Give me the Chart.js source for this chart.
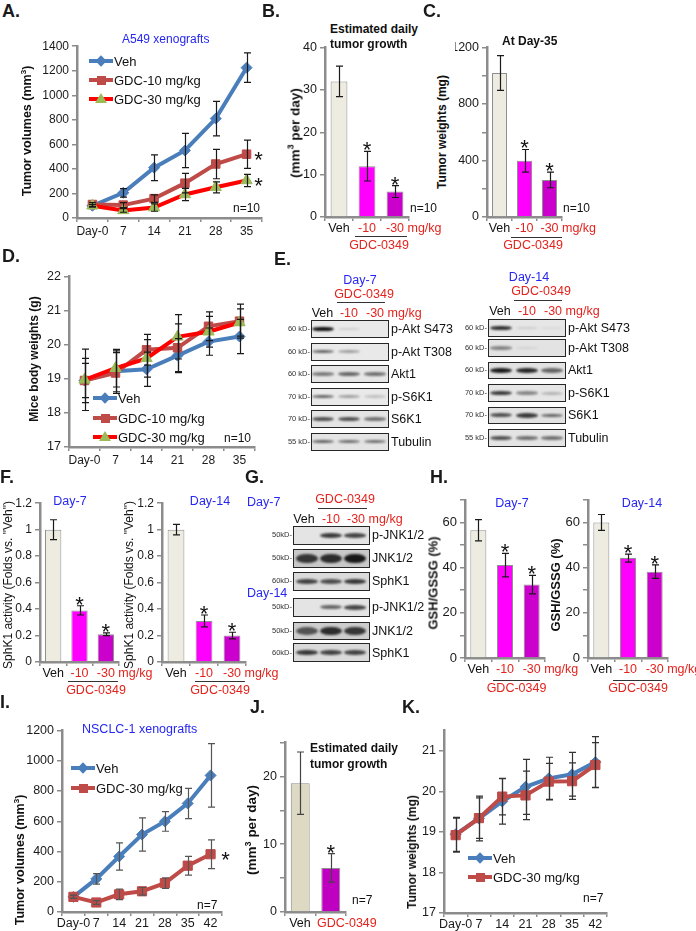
<!DOCTYPE html>
<html>
<head>
<meta charset="utf-8">
<script src="https://cdn.jsdelivr.net/npm/chart.js@4.4.1/dist/chart.umd.min.js"></script>
<style>
body { margin: 0; background: #fff; }
#page { position: relative; width: 696px; height: 931px; overflow: hidden; font-family: "Liberation Sans", Arial, sans-serif; color: #111; }
#page div { position: absolute; white-space: nowrap; }
#page canvas { position: absolute; }
</style>
</head>
<body>
<div id="page"></div>
<script>
// A - A549 tumor volumes
var daysA = ['Day-0', '7', '14', '21', '28', '35'];
var vehA = [100, 205, 410, 550, 810, 1225];
var vehAErr = [10, 35, 105, 140, 140, 120];
var gdc10A = [110, 105, 158, 284, 440, 520];
var gdc10AErr = [15, 20, 30, 80, 120, 115];
var gdc30A = [100, 62, 85, 192, 250, 306];
var gdc30AErr = [10, 15, 30, 50, 45, 50];

// B, C - bars (Veh, -10, -30 mg/kg)
var doses = ['Veh', '-10', '-30'];
var growthB = [32, 12, 6];
var growthBErr = [3.6, 3.5, 1.4];
var weightC = [1020, 398, 262];
var weightCErr = [123, 80, 55];

// D - body weights
var vehD = [18.95, 19.22, 19.28, 19.68, 20.09, 20.24];
var vehDErr = [0.65, 0.6, 0.5, 0.5, 0.4, 0.5];
var gdc10D = [18.95, 19.17, 19.85, 19.91, 20.54, 20.69];
var gdc10DErr = [0.5, 0.6, 0.45, 0.7, 0.42, 0.5];
var gdc30D = [18.97, 19.31, 19.6, 20.23, 20.38, 20.65];
var gdc30DErr = [0.9, 0.55, 0.55, 0.65, 0.45, 0.4];

// E, G - blot band strength per lane (Veh, -10, -30)
var proteinsE = ['p-Akt S473', 'p-Akt T308', 'Akt1', 'p-S6K1', 'S6K1', 'Tubulin'];
var kdE = ['60 kD-', '60 kD-', '60 kD-', '70 kD-', '70 kD-', '55 kD-'];
var bandsE7 = [[1.0, 0.12, 0], [0.6, 0.35, 0], [0.5, 0.6, 0.55], [0.6, 0.35, 0.2], [0.7, 0.7, 0.55], [0.6, 0.55, 0.55]];
var bandsE14 = [[0.85, 0.12, 0.06], [0.45, 0.08, 0], [0.95, 0.9, 0.6], [0.8, 0.45, 0.25], [0.7, 0.8, 0.6], [0.7, 0.55, 0.55]];
var proteinsG = ['p-JNK1/2', 'JNK1/2', 'SphK1'];
var kdG = ['50kD-', '50kD-', '60kD-'];
var bandsG7 = [[0, 0.8, 0.75], [0.8, 0.85, 0.95], [0.75, 0.7, 0.8]];
var bandsG14 = [[0, 0.6, 0.75], [0.65, 0.85, 0.8], [0.8, 0.75, 0.75]];

// F - SphK1 activity
var sphk7 = [1.0, 0.39, 0.21];
var sphk7Err = [0.075, 0.035, 0.01];
var sphk14 = [1.0, 0.31, 0.2];
var sphk14Err = [0.04, 0.045, 0.025];

// H - GSH/GSSG
var gsh7 = [56.5, 41.1, 32.5];
var gsh7Err = [4.7, 5.2, 4.1];
var gsh14 = [60, 44.2, 38.2];
var gsh14Err = [3.5, 1.8, 3.0];

// I - NSCLC-1 volumes
var daysI = ['Day-0', '7', '14', '21', '28', '35', '42'];
var vehI = [100, 219, 367, 512, 599, 718, 903];
var vehIErr = [10, 35, 90, 110, 65, 100, 210];
var gdcI = [100, 63, 117, 137, 191, 306, 382];
var gdcIErr = [10, 12, 35, 25, 35, 62, 95];

// J - daily growth
var groupsJ = ['Veh', 'GDC-0349'];
var growthJ = [19, 6.5];
var growthJErr = [4.6, 2.1];

// K - weights
var vehK = [18.94, 19.33, 19.75, 20.11, 20.32, 20.42, 20.72];
var vehKErr = [0.42, 0.55, 0.56, 0.68, 0.52, 0.54, 0.63];
var gdcK = [18.92, 19.34, 19.87, 19.9, 20.24, 20.25, 20.65];
var gdcKErr = [0.42, 0.5, 0.45, 0.6, 0.45, 0.45, 0.55];

var FONT = '"Liberation Sans", Arial, sans-serif';
Chart.defaults.font.family = FONT;
var AXIS = '#8c8c8c', RED = '#e3231d', TBLUE = '#2626f2';
var BLUE = '#4a7ebb', BROWN = '#be4b48', BRIGHT = '#ff0000', GREEN = '#9bbb59';
var BEIGE = '#eeece1', MAG = '#ff00ff', PURP = '#cc00cc', TAN = '#ddd9c3', PURP2 = '#c000c0';
var page = document.getElementById('page');

function t(s, x, y, o) {
    o = o || {};
    var d = document.createElement('div');
    d.innerHTML = s;
    d.style.left = x + 'px';
    d.style.top = y + 'px';
    d.style.fontSize = (o.size || 12) + 'px';
    d.style.lineHeight = '1';
    if (o.bold) d.style.fontWeight = 'bold';
    d.style.color = o.color || '#111';
    var tx = o.align == 'c' ? '-50%' : (o.align == 'r' ? '-100%' : '0');
    d.style.transform = o.rot ? 'translate(-50%,-50%) rotate(-90deg)' : 'translate(' + tx + ',-50%)';
    page.appendChild(d);
    return d;
}
function rect(x, y, w, h, css) {
    var d = document.createElement('div');
    d.style.cssText = 'left:' + x + 'px;top:' + y + 'px;width:' + w + 'px;height:' + h + 'px;' + (css || '');
    page.appendChild(d);
    return d;
}
function hline(x1, x2, y) {
    rect(x1, y, x2 - x1, 1, 'background:#333;');
}
function letter(s, x, y) {
    t(s, x, y, { size: 18, bold: true, color: '#1a1a1a' });
}

// error bars drawn from each dataset's err array
var errbars = {
    id: 'errbars',
    afterDatasetsDraw: function (chart) {
        var c = chart.ctx, ys = chart.scales.y;
        chart.data.datasets.forEach(function (ds, i) {
            if (!ds.err) return;
            var pts = chart.getDatasetMeta(i).data;
            c.save();
            c.strokeStyle = ds.errColor || '#1a1a1a';
            c.lineWidth = 1.2;
            pts.forEach(function (p, j) {
                var x = Math.round(p.x) + 0.5;
                var hi = ys.getPixelForValue(ds.data[j] + ds.err[j]);
                var lo = ys.getPixelForValue(ds.data[j] - ds.err[j]);
                c.beginPath();
                c.moveTo(x, hi); c.lineTo(x, lo);
                c.moveTo(x - 3.5, hi); c.lineTo(x + 3.5, hi);
                c.moveTo(x - 3.5, lo); c.lineTo(x + 3.5, lo);
                c.stroke();
            });
            c.restore();
        });
    }
};
// significance stars
var stars = {
    id: 'stars',
    afterDatasetsDraw: function (chart) {
        var c = chart.ctx, ys = chart.scales.y;
        chart.data.datasets.forEach(function (ds, i) {
            if (!ds.stars) return;
            var pts = chart.getDatasetMeta(i).data;
            c.save();
            c.fillStyle = '#111';
            c.font = '22px ' + FONT;
            c.textAlign = 'center';
            c.textBaseline = 'alphabetic';
            ds.stars.forEach(function (j) {
                if (ds.starDx) {
                    c.fillText('*', pts[j].x + ds.starDx, ys.getPixelForValue(ds.data[j]) + 12.5);
                } else {
                    c.fillText('*', pts[j].x, ys.getPixelForValue(ds.data[j] + ds.err[j]) + 6);
                }
            });
            c.restore();
        });
    }
};
Chart.register(errbars, stars);

function yLin(min, max, step, size, every) {
    return {
        type: 'linear', min: min, max: max,
        border: { display: true, color: AXIS, width: 2.5 },
        grid: { drawOnChartArea: false, drawTicks: true, tickLength: 5, color: AXIS, lineWidth: 1.5 },
        ticks: {
            stepSize: step, color: '#1a1a1a', font: { size: size }, padding: 3,
            callback: function (v) {
                var r = Math.round(v * 1000) / 1000;
                if (every && Math.abs(r / every - Math.round(r / every)) > 1e-6) return '';
                return r;
            }
        }
    };
}
function xCat(size, colors, pad) {
    return {
        type: 'category', offset: true,
        border: { display: true, color: AXIS, width: 2.5 },
        grid: { offset: true, drawOnChartArea: false, drawTicks: true, tickLength: 4, color: AXIS, lineWidth: 1.5 },
        ticks: {
            autoSkip: false, maxRotation: 0, padding: pad || 0, font: { size: size },
            color: function (c) { return colors ? colors[c.index] : '#1a1a1a'; }
        }
    };
}
function lineDs(lbl, vals, errs, col, shape, r, ord, fill) {
    return {
        label: lbl, data: vals, err: errs, borderColor: col, backgroundColor: fill || col,
        pointBorderColor: fill || col, pointBackgroundColor: fill || col,
        borderWidth: 4, pointStyle: shape, pointRadius: r, pointBorderWidth: 1, tension: 0, order: ord
    };
}
function barDs(vals, errs, cols, pct) {
    return {
        data: vals, err: errs, backgroundColor: cols, borderColor: '#8f8f8f', borderWidth: 1,
        categoryPercentage: 1, barPercentage: pct || 0.6
    };
}
function mkChart(cfg, box) {
    var cv = document.createElement('canvas');
    var w = Math.round(box.r - box.l + box.yw + box.pr), h = Math.round(box.b - box.t + box.pt + box.xh);
    cv.width = w; cv.height = h;
    cv.style.left = (box.l - box.yw) + 'px';
    cv.style.top = (box.t - box.pt) + 'px';
    cv.style.width = w + 'px';
    cv.style.height = h + 'px';
    page.appendChild(cv);
    var o = cfg.options;
    o.responsive = false;
    o.animation = false;
    o.devicePixelRatio = 1;
    o.layout = { padding: { top: box.pt, right: box.pr, left: 0, bottom: 0 } };
    o.plugins = o.plugins || {};
    o.plugins.legend = { display: false };
    o.plugins.tooltip = { enabled: false };
    o.scales.x.afterFit = function (s) { s.height = box.xh; };
    o.scales.y.afterFit = function (s) { s.width = box.yw; };
    var ch = new Chart(cv, cfg);
    ch.$box = box;
    return ch;
}
// "mg/kg" after the last dose tick, GDC-0349 bracket below
function doseFoot(ch, size, lineY, lineX1, lineX2, gdcX, gdcY) {
    var b = ch.$box;
    var cx = ch.scales.x.getPixelForValue(2) + b.l - b.yw;
    var m = document.createElement('canvas').getContext('2d');
    m.font = size + 'px ' + FONT;
    var w = m.measureText(ch.data.labels[2]).width;
    var cy = b.b + 4 + 0.55 * size;
    t('mg/kg', cx + w / 2 + m.measureText(' ').width, cy, { size: size, color: RED });
    hline(lineX1, lineX2, lineY);
    t('GDC-0349', gdcX, gdcY, { size: size, color: RED, align: 'c' });
}
function legend(x1, rows) {
    rows.forEach(function (r) {
        rect(x1, r.cy - 2, 24, 4, 'background:' + r.color + ';');
        var mx = x1 + 12;
        if (r.shape == 'diamond') rect(mx - 4, r.cy - 4, 8, 8, 'background:' + r.fill + ';transform:rotate(45deg);');
        if (r.shape == 'square') rect(mx - 4.5, r.cy - 4.5, 9, 9, 'background:' + r.fill + ';');
        if (r.shape == 'triangle') rect(mx - 6, r.cy - 6, 0, 0, 'border-left:6px solid transparent;border-right:6px solid transparent;border-bottom:10px solid ' + r.fill + ';');
        t(r.label, x1 + 25, r.cy, { size: 13 });
    });
}
function blots(x1, x2, tops, h, lanes, vals, names, kds, bgs, bandH) {
    tops.forEach(function (top, i) {
        rect(x1, top, x2 - x1, h, 'background:' + bgs[i] + ';border:1px solid #262626;box-sizing:border-box;');
        vals[i].forEach(function (a, j) {
            if (a <= 0) return;
            var bh = bandH[i] * (0.6 + 0.6 * a);
            rect(lanes[j] - 11, top + h / 2 - bh / 2, 22, bh,
                'background:rgba(15,15,15,' + a + ');border-radius:50%;filter:blur(1.2px);');
        });
        t(names[i], x2 + 2, top + h / 2, { size: 12.5 });
        t(kds[i], x1 - 1, top + h / 2, { size: 7.5, align: 'r', color: '#333' });
    });
}

// ---------- A ----------
var dsA = [
    lineDs('Veh', vehA, vehAErr, BLUE, 'rectRot', 5.5, 3),
    lineDs('GDC-10 mg/kg', gdc10A, gdc10AErr, BROWN, 'rect', 6, 2),
    lineDs('GDC-30 mg/kg', gdc30A, gdc30AErr, BRIGHT, 'triangle', 6.5, 1, GREEN)
];
dsA[1].stars = [5]; dsA[1].starDx = 12;
dsA[2].stars = [5]; dsA[2].starDx = 12;
mkChart({ type: 'line', data: { labels: daysA, datasets: dsA },
    options: { scales: { x: xCat(12, null, 2), y: yLin(0, 1400, 200, 12) } } },
    { l: 77, t: 44, r: 262, b: 218, yw: 45, xh: 24, pt: 8, pr: 16 });
letter('A.', 2, 11);
t('A549 xenografts', 122, 39, { size: 12, color: TBLUE });
t('Tumor volumes (mm<sup style="font-size:8px">3</sup>)', 27, 131, { size: 12.5, bold: true, rot: true });
t('n=10', 233, 208, { size: 12 });
legend(89, [
    { cy: 61, label: 'Veh', color: BLUE, fill: BLUE, shape: 'diamond' },
    { cy: 80, label: 'GDC-10 mg/kg', color: BROWN, fill: BROWN, shape: 'square' },
    { cy: 99, label: 'GDC-30 mg/kg', color: BRIGHT, fill: GREEN, shape: 'triangle' }
]);

// ---------- B ----------
var dsB = barDs(growthB, growthBErr, [BEIGE, MAG, PURP], 0.6);
dsB.stars = [1, 2];
var chB = mkChart({ type: 'bar', data: { labels: doses, datasets: [dsB] },
    options: { scales: { x: xCat(12.5, ['#111', RED, RED]), y: yLin(0, 40, 10, 12.5) } } },
    { l: 325, t: 43, r: 409, b: 217, yw: 30, xh: 22, pt: 6, pr: 4 });
letter('B.', 262, 11);
t('Estimated daily', 330, 29, { size: 12, bold: true });
t('tumor growth', 330, 43.5, { size: 12, bold: true });
t('(mm<sup style="font-size:9px">3</sup> per day)', 294, 133, { size: 13.5, bold: true, rot: true });
t('n=10', 410, 208, { size: 12 });
doseFoot(chB, 12.5, 236, 355, 407, 379, 245);

// ---------- C ----------
var dsC = barDs(weightC, weightCErr, [BEIGE, MAG, PURP], 0.6);
dsC.stars = [1, 2];
var chC = mkChart({ type: 'bar', data: { labels: doses, datasets: [dsC] },
    options: { scales: { x: xCat(12.5, ['#111', RED, RED]), y: yLin(0, 1200, 200, 12.5, 400) } } },
    { l: 487, t: 43, r: 562, b: 217, yw: 32, xh: 22, pt: 6, pr: 4 });
letter('C.', 423, 11);
t('At Day-35', 502, 41, { size: 12, bold: true });
t('Tumor weights (mg)', 442, 132, { size: 12, bold: true, rot: true });
t('n=10', 563, 208, { size: 12 });
doseFoot(chC, 12.5, 237, 511, 562, 533, 245);

// ---------- D ----------
var dsD = [
    lineDs('Veh', vehD, vehDErr, BLUE, 'rectRot', 5.5, 3),
    lineDs('GDC-10 mg/kg', gdc10D, gdc10DErr, BROWN, 'rect', 6, 2),
    lineDs('GDC-30 mg/kg', gdc30D, gdc30DErr, BRIGHT, 'triangle', 6.5, 1, GREEN)
];
mkChart({ type: 'line', data: { labels: daysA, datasets: dsD },
    options: { scales: { x: xCat(12, null, 2), y: yLin(17, 22, 1, 12.5) } } },
    { l: 69, t: 274, r: 255, b: 446.7, yw: 40, xh: 24, pt: 8, pr: 8 });
letter('D.', 2, 256);
t('Mice body weights (g)', 34, 359, { size: 12, bold: true, rot: true });
t('n=10', 224, 438, { size: 12 });
legend(93, [
    { cy: 398, label: 'Veh', color: BLUE, fill: BLUE, shape: 'diamond' },
    { cy: 418, label: 'GDC-10 mg/kg', color: BROWN, fill: BROWN, shape: 'square' },
    { cy: 437, label: 'GDC-30 mg/kg', color: BRIGHT, fill: GREEN, shape: 'triangle' }
]);

// ---------- E ----------
letter('E.', 274, 259);
t('Day-7', 360, 280, { size: 12.5, color: TBLUE, align: 'c' });
t('GDC-0349', 364, 294, { size: 12.5, color: RED, align: 'c' });
hline(337, 385, 302);
t('Veh', 322.5, 313, { size: 12.5, align: 'c' });
t('-10', 349, 313, { size: 12.5, color: RED, align: 'c' });
t('-30 mg/kg', 366, 313, { size: 12.5, color: RED });
blots(311, 389, [320, 342.5, 365, 387.5, 410, 432.5], 18, [323, 349, 375], bandsE7, proteinsE, kdE,
    ['#e9e9e9', '#e9e9e9', '#e6e6e6', '#e9e9e9', '#e4e4e4', '#e4e4e4'], [4, 4, 4, 4, 4, 4]);
t('Day-14', 529, 277, { size: 12.5, color: TBLUE, align: 'c' });
t('GDC-0349', 541, 291, { size: 12.5, color: RED, align: 'c' });
hline(514, 562, 300);
t('Veh', 500, 311, { size: 12.5, align: 'c' });
t('-10', 527, 311, { size: 12.5, color: RED, align: 'c' });
t('-30 mg/kg', 544, 311, { size: 12.5, color: RED });
blots(488, 566, [319.3, 339.3, 361.7, 384.3, 406.7, 429], 17.5, [501, 527, 552], bandsE14, proteinsE, kdE,
    ['#e6e6e6', '#e3e3e3', '#e2e2e2', '#e6e6e6', '#e2e2e2', '#e4e4e4'], [4, 4, 4.5, 4, 4, 4]);

// ---------- F ----------
var dsF7 = barDs(sphk7, sphk7Err, [BEIGE, MAG, PURP], 0.62);
dsF7.stars = [1, 2];
var chF7 = mkChart({ type: 'bar', data: { labels: doses, datasets: [dsF7] },
    options: { scales: { x: xCat(12.5, ['#111', RED, RED]), y: yLin(0, 1.2, 0.2, 12) } } },
    { l: 40, t: 499, r: 119, b: 661.7, yw: 28, xh: 22, pt: 6, pr: 4 });
var dsF14 = barDs(sphk14, sphk14Err, [BEIGE, MAG, PURP], 0.6);
dsF14.stars = [1, 2];
var chF14 = mkChart({ type: 'bar', data: { labels: doses, datasets: [dsF14] },
    options: { scales: { x: xCat(12.5, ['#111', RED, RED]), y: yLin(0, 1.2, 0.2, 12) } } },
    { l: 162, t: 499, r: 246, b: 661.7, yw: 28, xh: 22, pt: 6, pr: 4 });
letter('F.', 0, 477);
t('Day-7', 70, 501, { size: 12.5, color: TBLUE, align: 'c' });
t('Day-14', 210, 501, { size: 12.5, color: TBLUE, align: 'c' });
t('SphK1 activity (Folds vs. "Veh")', 8, 585, { size: 12, rot: true });
t('SphK1 activity (Folds vs. "Veh")', 129, 585, { size: 12, rot: true });
doseFoot(chF7, 12.5, 681, 68, 118, 96, 690);
doseFoot(chF14, 12.5, 681, 195, 245, 220, 690);

// ---------- G ----------
letter('G.', 245, 477);
t('Day-7', 247, 502, { size: 12.5, color: TBLUE });
t('GDC-0349', 345, 499, { size: 12.5, color: RED, align: 'c' });
hline(318, 367, 508);
t('Veh', 304, 519, { size: 12.5, align: 'c' });
t('-10', 331, 519, { size: 12.5, color: RED, align: 'c' });
t('-30 mg/kg', 347, 519, { size: 12.5, color: RED });
blots(293, 370, [526, 549, 572], 18.5, [307, 331, 355], bandsG7, proteinsG, kdG,
    ['#e4e4e4', '#c9c9c9', '#dadada'], [4.5, 8, 5]);
t('Day-14', 247, 593, { size: 12.5, color: TBLUE });
blots(293, 370, [598, 621.7, 643.3], 18.5, [307, 331, 355], bandsG14, proteinsG, kdG,
    ['#e4e4e4', '#cdcdcd', '#dadada'], [4.5, 8, 5]);

// ---------- H ----------
var dsH7 = barDs(gsh7, gsh7Err, [BEIGE, MAG, PURP], 0.6);
dsH7.stars = [1, 2];
var chH7 = mkChart({ type: 'bar', data: { labels: doses, datasets: [dsH7] },
    options: { scales: { x: xCat(12.5, ['#111', RED, RED]), y: yLin(0, 70, 10, 13, 20) } } },
    { l: 465, t: 495, r: 545, b: 658.3, yw: 26, xh: 22, pt: 6, pr: 4 });
var dsH14 = barDs(gsh14, gsh14Err, [BEIGE, MAG, PURP], 0.6);
dsH14.stars = [1, 2];
var chH14 = mkChart({ type: 'bar', data: { labels: doses, datasets: [dsH14] },
    options: { scales: { x: xCat(12.5, ['#111', RED, RED]), y: yLin(0, 70, 10, 13, 20) } } },
    { l: 588, t: 495, r: 668, b: 658.3, yw: 26, xh: 22, pt: 6, pr: 4 });
letter('H.', 430, 477);
t('Day-7', 512, 503, { size: 12.5, color: TBLUE, align: 'c' });
t('Day-14', 642, 503, { size: 12.5, color: TBLUE, align: 'c' });
t('GSH/GSSG (%)', 433, 583, { size: 13, bold: true, rot: true });
t('GSH/GSSG (%)', 555, 585, { size: 13, bold: true, rot: true });
doseFoot(chH7, 12.5, 680, 493, 540, 516.5, 688);
doseFoot(chH14, 12.5, 680, 613, 662, 638, 688);

// ---------- I ----------
var dsI = [
    lineDs('Veh', vehI, vehIErr, BLUE, 'rectRot', 5.5, 2),
    lineDs('GDC-30 mg/kg', gdcI, gdcIErr, BROWN, 'rect', 6.5, 1)
];
dsI[0].errColor = '#555'; dsI[1].errColor = '#555';
dsI[1].stars = [6]; dsI[1].starDx = 15;
mkChart({ type: 'line', data: { labels: daysI, datasets: dsI },
    options: { scales: { x: xCat(12.5), y: yLin(0, 1200, 200, 12.5) } } },
    { l: 62, t: 727.7, r: 222, b: 912, yw: 36, xh: 22, pt: 8, pr: 14 });
letter('I.', 0, 702);
t('NSCLC-1 xenografts', 82, 729, { size: 12.5, color: TBLUE });
t('Tumor volumes (mm<sup style="font-size:8px">3</sup>)', 20, 860, { size: 12.5, bold: true, rot: true });
t('n=7', 197, 905, { size: 12 });
legend(71, [
    { cy: 768, label: 'Veh', color: BLUE, fill: BLUE, shape: 'diamond' },
    { cy: 788, label: 'GDC-30 mg/kg', color: BROWN, fill: BROWN, shape: 'square' }
]);

// ---------- J ----------
var dsJ = barDs(growthJ, growthJErr, [TAN, PURP2], 0.62);
dsJ.stars = [1];
dsJ.errColor = '#444';
var xJ = xCat(12.5);
xJ.ticks.callback = function () { return ''; };
mkChart({ type: 'bar', data: { labels: groupsJ, datasets: [dsJ] },
    options: { scales: { x: xJ, y: yLin(0, 25, 5, 12.5, 10) } } },
    { l: 285, t: 738, r: 346.4, b: 911.7, yw: 28, xh: 22, pt: 6, pr: 4 });
letter('J.', 250, 707);
t('Estimated daily', 310, 748, { size: 12, bold: true });
t('tumor growth', 310, 764, { size: 12, bold: true });
t('(mm<sup style="font-size:9px">3</sup> per day)', 251, 830, { size: 13.5, bold: true, rot: true });
t('Veh', 300, 923, { size: 12.5, align: 'c' });
t('GDC-0349', 317, 923, { size: 12.5, color: RED });
t('n=7', 352, 900, { size: 12 });

// ---------- K ----------
var dsK = [
    lineDs('Veh', vehK, vehKErr, BLUE, 'rectRot', 5.5, 2),
    lineDs('GDC-30 mg/kg', gdcK, gdcKErr, BROWN, 'rect', 6.5, 1)
];
dsK[0].errColor = '#333'; dsK[1].errColor = '#333';
var yK = yLin(17, 21.5, 1, 12.5);
yK.afterBuildTicks = function (s) { s.ticks = s.ticks.filter(function (k) { return Number.isInteger(k.value); }); };
mkChart({ type: 'line', data: { labels: daysI, datasets: dsK },
    options: { scales: { x: xCat(12.5), y: yK } } },
    { l: 444, t: 727.8, r: 607, b: 912.3, yw: 30, xh: 22, pt: 8, pr: 8 });
letter('K.', 402, 707);
t('Tumor weights (mg)', 412, 852, { size: 12, bold: true, rot: true });
t('n=7', 583, 898, { size: 12 });
legend(468, [
    { cy: 858, label: 'Veh', color: BLUE, fill: BLUE, shape: 'diamond' },
    { cy: 877, label: 'GDC-30 mg/kg', color: BROWN, fill: BROWN, shape: 'square' }
]);
</script>
</body>
</html>
